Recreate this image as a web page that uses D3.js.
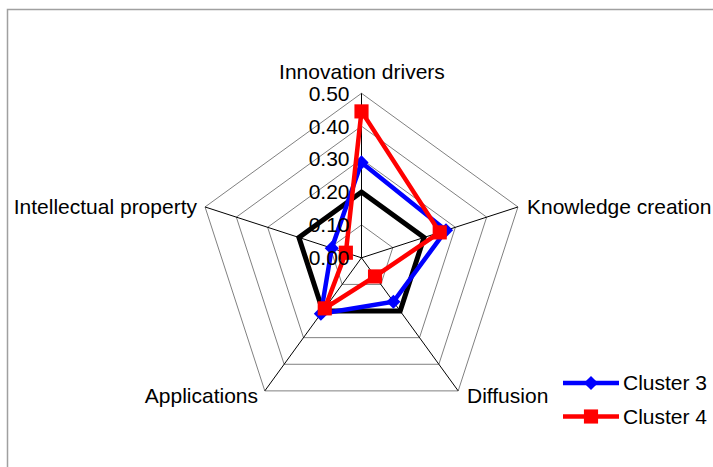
<!DOCTYPE html>
<head>
  <meta charset="utf-8">
  <title></title>
</head>
<style media="screen">
  body { margin: 0; background: white; }
  text { font-family: "Liberation Sans", Arial, sans-serif; font-size: 21px; fill: black; }
  .grid path { fill: none; stroke: #808080; stroke-width: 1px; }
  .spokes line { stroke: black; stroke-width: 1px; }
</style>
<body>
  <svg id="chart" width="713" height="467"></svg>
  <script src="https://d3js.org/d3.v7.min.js"></script>
  <script>
    // axes of the radar, clockwise from top
    var axes = ["Innovation drivers", "Knowledge creation", "Diffusion", "Applications", "Intellectual property"]
    var ticks = [0, 0.1, 0.2, 0.3, 0.4, 0.5]
    var baseline = [0.20, 0.20, 0.20, 0.20, 0.20]
    var cluster3 = [0.29, 0.27, 0.165, 0.21, 0.095]
    var cluster4 = [0.445, 0.25, 0.07, 0.19, 0.05]

    var svg = d3.select("#chart"),
        cx = 361.5,
        cy = 257.8,
        R = 164.5

    var r = d3.scaleLinear().domain([0, 0.5]).range([0, R])
    var angle = d3.scaleLinear().domain([0, axes.length]).range([0, 2 * Math.PI])

    function pt(i, v) {
      var a = angle(i)
      return [r(v) * Math.sin(a), -r(v) * Math.cos(a)]
    }

    // plot area border
    svg.append("rect")
      .attr("x", 7.5).attr("y", 9.5)
      .attr("width", 720).attr("height", 480)
      .style("fill", "none").style("stroke", "#a0a0a0").style("stroke-width", 1.5)

    var radial = d3.lineRadial()
      .angle((d, i) => angle(i))
      .radius(d => r(d))
      .curve(d3.curveLinearClosed)

    var g = svg.append("g").attr("transform", "translate(" + cx + "," + cy + ")")

    g.append("g").attr("class", "grid")
      .selectAll("path").data(ticks.slice(1)).enter().append("path")
      .attr("d", t => radial(axes.map(() => t)))

    g.append("g").attr("class", "spokes")
      .selectAll("line").data(axes).enter().append("line")
      .attr("x1", 0).attr("y1", 0)
      .attr("x2", (d, i) => pt(i, 0.5)[0])
      .attr("y2", (d, i) => pt(i, 0.5)[1])

    // series
    var series = [
      {name: "Average", values: baseline, color: "black", marker: null, width: 5},
      {name: "Cluster 3", values: cluster3, color: "#0000ff", marker: "diamond", width: 4.5},
      {name: "Cluster 4", values: cluster4, color: "#ff0000", marker: "square", width: 4.5}
    ]

    var sym = {
      diamond: d3.symbol().type(d3.symbolSquare).size(100),
      square: d3.symbol().type(d3.symbolSquare).size(200)
    }

    series.forEach(s => {
      g.append("path")
        .attr("d", radial(s.values))
        .style("fill", "none")
        .style("stroke", s.color)
        .style("stroke-width", s.width)
      if (!s.marker) return
      g.selectAll(null).data(s.values).enter().append("path")
        .attr("d", sym[s.marker]())
        .attr("transform", (d, i) => {
          var p = pt(i, d)
          return "translate(" + p[0] + "," + p[1] + ")" + (s.marker == "diamond" ? " rotate(45)" : "")
        })
        .style("fill", s.color)
    })

    // tick labels
    svg.append("g").selectAll("text").data(ticks).enter().append("text")
      .attr("x", cx - 12)
      .attr("y", t => cy - r(t))
      .attr("dy", "0.35em")
      .attr("text-anchor", "end")
      .text(d3.format(".2f"))

    // axis labels
    var labelPos = [
      {x: 362, y: 79, anchor: "middle"},
      {x: 527, y: 214, anchor: "start"},
      {x: 467, y: 403, anchor: "start"},
      {x: 258, y: 403, anchor: "end"},
      {x: 197, y: 214, anchor: "end"}
    ]
    svg.append("g").selectAll("text").data(axes).enter().append("text")
      .attr("x", (d, i) => labelPos[i].x)
      .attr("y", (d, i) => labelPos[i].y)
      .attr("text-anchor", (d, i) => labelPos[i].anchor)
      .text(d => d)

    // legend
    var legend = svg.append("g").selectAll("g").data(series.slice(1)).enter().append("g")
      .attr("transform", (d, i) => "translate(563," + (383 + i * 33.5) + ")")
    legend.append("line")
      .attr("x1", 0).attr("x2", 56).attr("y1", 0).attr("y2", 0)
      .style("stroke", d => d.color).style("stroke-width", 4.5)
    legend.append("path")
      .attr("d", d => sym[d.marker]())
      .attr("transform", d => "translate(28,0)" + (d.marker == "diamond" ? " rotate(45)" : ""))
      .style("fill", d => d.color)
    legend.append("text")
      .attr("x", 60).attr("y", 0).attr("dy", "0.35em")
      .text(d => d.name)
  </script>
</body>
